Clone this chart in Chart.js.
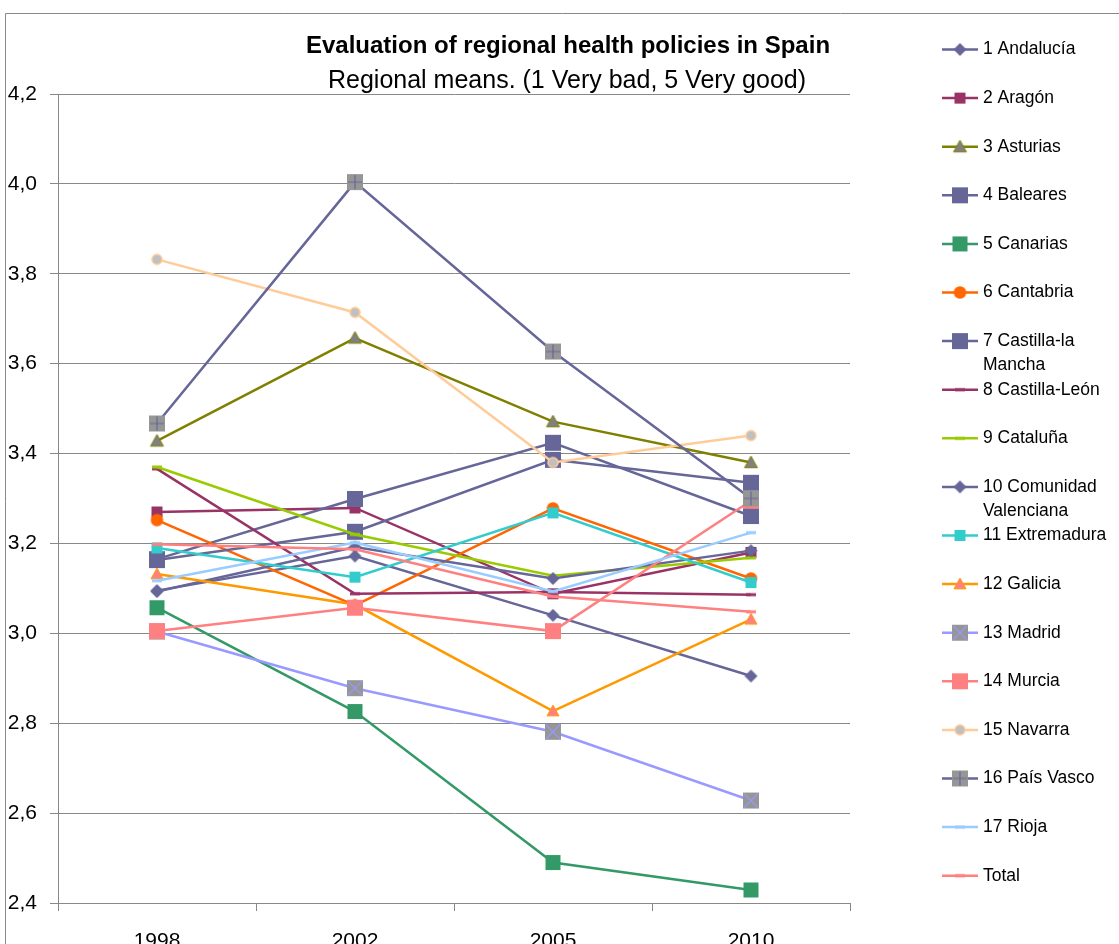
<!DOCTYPE html>
<html>
<head>
<meta charset="utf-8">
<script src="https://cdn.jsdelivr.net/npm/chart.js@4.4.1/dist/chart.umd.min.js"></script>
<style>
    html, body { margin: 0; padding: 0; background: #fff; overflow: hidden; }
    canvas { display: block; }
</style>
</head>
<body>
<canvas id="healthChart" width="1119" height="990"></canvas>
<script>
// chart data
const years = ['1998', '2002', '2005', '2010'];
const yTicks = [2.4, 2.6, 2.8, 3.0, 3.2, 3.4, 3.6, 3.8, 4.0, 4.2];

const andalucia = [3.095, 3.172, 3.040, 2.905];
const aragon = [3.270, 3.279, 3.088, 3.180];
const asturias = [3.428, 3.657, 3.471, 3.380];
const baleares = [3.165, 3.299, 3.424, 3.261];
const canarias = [3.057, 2.826, 2.490, 2.429];
const cantabria = [3.252, 3.062, 3.278, 3.122];
const castillaLaMancha = [3.163, 3.226, 3.386, 3.335];
const castillaLeon = [3.366, 3.088, 3.092, 3.086];
const cataluna = [3.370, 3.220, 3.128, 3.168];
const comunidadValenciana = [3.093, 3.192, 3.122, 3.184];
const extremadura = [3.190, 3.125, 3.268, 3.113];
const galicia = [3.132, 3.064, 2.827, 3.031];
const madrid = [3.004, 2.878, 2.781, 2.628];
const murcia = [3.005, 3.057, 3.005, 3.295];
const navarra = [3.832, 3.714, 3.380, 3.440];
const paisVasco = [3.467, 4.004, 3.627, 3.300];
const rioja = [3.117, 3.202, 3.093, 3.224];
const total = [3.198, 3.187, 3.082, 3.048];

// little canvases used as point styles (chart and legend)
function makeMarker(shape, size, fill, stroke, glyphColor) {
    const c = document.createElement('canvas');
    const s = Math.ceil(size) + 4;
    c.width = s; c.height = s;
    const ctx = c.getContext('2d');
    const m = s / 2, h = size / 2;
    ctx.fillStyle = fill;
    ctx.strokeStyle = stroke;
    ctx.lineWidth = 1;
    ctx.beginPath();
    if (shape === 'square' || shape === 'crossSquare' || shape === 'plusSquare') {
        ctx.rect(m - h, m - h, size, size);
        ctx.fill();
    } else if (shape === 'diamond') {
        ctx.moveTo(m, m - h); ctx.lineTo(m + h, m); ctx.lineTo(m, m + h); ctx.lineTo(m - h, m);
        ctx.closePath(); ctx.fill();
    } else if (shape === 'triangle') {
        ctx.moveTo(m, m - h); ctx.lineTo(m + h, m + h * 0.8); ctx.lineTo(m - h, m + h * 0.8);
        ctx.closePath(); ctx.fill(); ctx.stroke();
    } else if (shape === 'circle') {
        ctx.arc(m, m, h, 0, Math.PI * 2);
        ctx.fill(); ctx.lineWidth = 1.5; ctx.stroke();
    } else if (shape === 'dash') {
        ctx.fillRect(m - h, m - 1.5, size, 3);
    }
    if (shape === 'crossSquare') {
        ctx.strokeStyle = glyphColor; ctx.lineWidth = 1.2;
        ctx.beginPath();
        ctx.moveTo(m - h + 1, m - h + 1); ctx.lineTo(m + h - 1, m + h - 1);
        ctx.moveTo(m + h - 1, m - h + 1); ctx.lineTo(m - h + 1, m + h - 1);
        ctx.stroke();
    }
    if (shape === 'plusSquare') {
        ctx.strokeStyle = glyphColor; ctx.lineWidth = 1.2;
        ctx.beginPath();
        ctx.moveTo(m, m - h + 1); ctx.lineTo(m, m + h - 1);
        ctx.moveTo(m - h + 1, m); ctx.lineTo(m + h - 1, m);
        ctx.stroke();
    }
    return c;
}

const series = [
    { label: '1 Andalucía', data: andalucia, color: '#666699', marker: makeMarker('diamond', 13, '#666699', '#666699') },
    { label: '2 Aragón', data: aragon, color: '#993366', marker: makeMarker('square', 11, '#993366', '#993366') },
    { label: '3 Asturias', data: asturias, color: '#808000', marker: makeMarker('triangle', 13, '#808080', '#808000') },
    { label: '4 Baleares', data: baleares, color: '#666699', marker: makeMarker('square', 16, '#666699', '#666699') },
    { label: '5 Canarias', data: canarias, color: '#339966', marker: makeMarker('square', 15, '#339966', '#339966') },
    { label: '6 Cantabria', data: cantabria, color: '#FF6600', marker: makeMarker('circle', 11, '#FF6600', '#FF6600') },
    { label: '7 Castilla-la Mancha', data: castillaLaMancha, color: '#666699', marker: makeMarker('square', 16, '#666699', '#666699') },
    { label: '8 Castilla-León', data: castillaLeon, color: '#993366', marker: makeMarker('dash', 10, '#993366', '#993366') },
    { label: '9 Cataluña', data: cataluna, color: '#99CC00', marker: makeMarker('dash', 10, '#99CC00', '#99CC00') },
    { label: '10 Comunidad Valenciana', data: comunidadValenciana, color: '#666699', marker: makeMarker('diamond', 13, '#666699', '#666699') },
    { label: '11 Extremadura', data: extremadura, color: '#33CCCC', marker: makeMarker('square', 11, '#33CCCC', '#33CCCC') },
    { label: '12 Galicia', data: galicia, color: '#FF9900', marker: makeMarker('triangle', 12, '#FF8080', '#FF9900') },
    { label: '13 Madrid', data: madrid, color: '#9999FF', marker: makeMarker('crossSquare', 16, '#969696', '#969696', '#9999FF') },
    { label: '14 Murcia', data: murcia, color: '#FF8080', marker: makeMarker('square', 16, '#FF8080', '#FF8080') },
    { label: '15 Navarra', data: navarra, color: '#FFCC99', marker: makeMarker('circle', 10, '#C0C0C0', '#FFCC99') },
    { label: '16 País Vasco', data: paisVasco, color: '#666699', marker: makeMarker('plusSquare', 16, '#969696', '#969696', '#666699') },
    { label: '17 Rioja', data: rioja, color: '#99CCFF', marker: makeMarker('dash', 10, '#99CCFF', '#99CCFF') },
    { label: 'Total', data: total, color: '#FF8080', marker: makeMarker('dash', 10, '#FF8080', '#FF8080') }
];

const FONT = '"Liberation Sans", Arial, sans-serif';

// frame, titles and the legend column on the right
const decorations = {
    id: 'decorations',
    beforeDraw(chart) {
        const ctx = chart.ctx;
        ctx.save();
        ctx.strokeStyle = '#888888';
        ctx.lineWidth = 1;
        ctx.beginPath();
        ctx.moveTo(5.5, chart.height);
        ctx.lineTo(5.5, 13.5);
        ctx.lineTo(chart.width, 13.5);
        ctx.stroke();
        ctx.restore();
    },
    afterDraw(chart) {
        const ctx = chart.ctx;
        ctx.save();
        ctx.fillStyle = '#000';
        ctx.textAlign = 'center';
        ctx.textBaseline = 'alphabetic';
        ctx.font = 'bold 24px ' + FONT;
        ctx.fillText('Evaluation of regional health policies in Spain', 568, 53);
        ctx.font = '25px ' + FONT;
        ctx.fillText('Regional means. (1 Very bad, 5 Very good)', 567, 88);

        ctx.textAlign = 'left';
        ctx.textBaseline = 'middle';
        ctx.font = '17.5px ' + FONT;
        const maxW = 134;
        chart.data.datasets.forEach((ds, i) => {
            const y = 49.5 + i * 48.6;
            ctx.strokeStyle = ds.borderColor;
            ctx.lineWidth = 2.5;
            ctx.beginPath();
            ctx.moveTo(942, y);
            ctx.lineTo(978, y);
            ctx.stroke();
            const img = ds.pointStyle;
            ctx.drawImage(img, 960 - img.width / 2, y - img.height / 2);
            // word wrap
            const words = ds.label.split(' ');
            const lines = [];
            let cur = '';
            words.forEach(w => {
                const test = cur ? cur + ' ' + w : w;
                if (cur && ctx.measureText(test).width > maxW) {
                    lines.push(cur);
                    cur = w;
                } else {
                    cur = test;
                }
            });
            lines.push(cur);
            ctx.fillStyle = '#000';
            lines.forEach((t, k) => ctx.fillText(t, 983, y + k * 24.3));
        });
        ctx.restore();
    }
};

const datasets = series.map((s, i) => ({
    label: s.label,
    data: s.data,
    borderColor: s.color,
    backgroundColor: s.color,
    borderWidth: 2.5,
    pointStyle: s.marker,
    pointRadius: 6,
    pointHoverRadius: 6,
    tension: 0,
    order: series.length - i
}));

new Chart(document.getElementById('healthChart'), {
    type: 'line',
    data: { labels: years, datasets: datasets },
    options: {
        responsive: false,
        animation: false,
        events: [],
        layout: { padding: { top: 94, right: 269, bottom: 0, left: 0 } },
        plugins: {
            legend: { display: false },
            title: { display: false },
            tooltip: { enabled: false }
        },
        scales: {
            x: {
                offset: true,
                afterFit(scale) { scale.height = 87; },
                grid: {
                    offset: true,
                    drawOnChartArea: false,
                    tickLength: 8,
                    color: '#888888'
                },
                border: { display: true, color: '#888888' },
                ticks: {
                    color: '#000',
                    padding: 18,
                    font: { family: FONT, size: 21 }
                }
            },
            y: {
                min: 2.4,
                max: 4.2,
                afterFit(scale) { scale.width = 58; },
                afterBuildTicks(scale) { scale.ticks = yTicks.map(v => ({ value: v })); },
                grid: { color: '#888888', tickLength: 8 },
                border: { display: true, color: '#888888' },
                ticks: {
                    color: '#000',
                    padding: 13,
                    font: { family: FONT, size: 21 },
                    callback: v => v.toFixed(1).replace('.', ',')
                }
            }
        }
    },
    plugins: [decorations]
});
</script>
</body>
</html>
